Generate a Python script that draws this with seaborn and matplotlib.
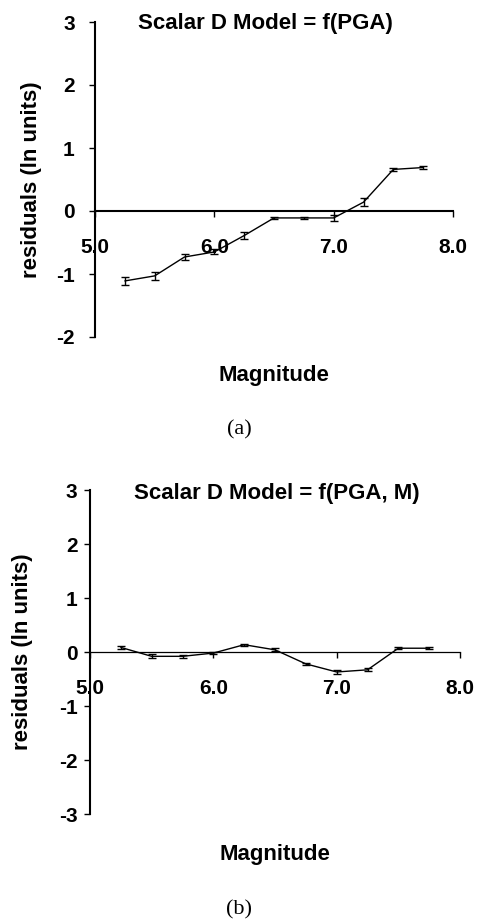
import matplotlib
matplotlib.use("Agg")
import matplotlib.pyplot as plt
import seaborn as sns
import pandas as pd

# Data
magnitude = [5.25, 5.5, 5.75, 6.0, 6.25, 6.5, 6.75, 7.0, 7.25, 7.5, 7.75]
resid_a = [-1.11, -1.03, -0.73, -0.65, -0.39, -0.11, -0.11, -0.11, 0.14, 0.66, 0.69]
err_a = [0.07, 0.06, 0.04, 0.04, 0.05, 0.015, 0.015, 0.05, 0.06, 0.03, 0.03]
resid_b = [0.085, -0.08, -0.08, -0.02, 0.135, 0.04, -0.22, -0.37, -0.33, 0.07, 0.07]
err_b = [0.03, 0.04, 0.03, 0.02, 0.015, 0.03, 0.015, 0.03, 0.03, 0.015, 0.015]
xticks = [5.0, 6.0, 7.0, 8.0]
xtick_labels = ["5.0", "6.0", "7.0", "8.0"]
titles = ["Scalar D Model = f(PGA)", "Scalar D Model = f(PGA, M)"]
captions = ["(a)", "(b)"]

sns.set_theme(style="white")
plt.rcParams['font.family'] = ['Liberation Sans', 'DejaVu Sans']

W, H = 481, 921
fig = plt.figure(figsize=(W / 100, H / 100), dpi=100)

def frac_rect(l, r, t, b):
    return [l / W, 1 - b / H, (r - l) / W, (b - t) / H]

panels = [
    dict(rect=frac_rect(95, 453, 22, 337), y=resid_a, e=err_a, ylim=(-2, 3),
         yticks=[-2, -1, 0, 1, 2, 3], zero_lw=1.5, ypad=10,
         title_xy=(0.475, 0.995), ylab_x=-0.148, xlab_y=-0.089,
         cap_xy=(239, 430)),
    dict(rect=frac_rect(90, 460, 490, 814), y=resid_b, e=err_b, ylim=(-3, 3),
         yticks=[-3, -2, -1, 0, 1, 2, 3], zero_lw=0.9, ypad=4.5,
         title_xy=(0.505, 0.99), ylab_x=-0.154, xlab_y=-0.092,
         cap_xy=(239, 910)),
]

for i, p in enumerate(panels):
    ax = fig.add_axes(p["rect"])
    df = pd.DataFrame({"Magnitude": magnitude, "resid": p["y"], "err": p["e"]})
    sns.lineplot(data=df, x="Magnitude", y="resid", ax=ax, color="black",
                 linewidth=1.0, errorbar=None)
    ax.errorbar(df["Magnitude"], df["resid"], yerr=df["err"], fmt="none",
                ecolor="black", elinewidth=1.0, capsize=3, capthick=1.0)
    ax.set_xlim(5.0, 8.0)
    ax.set_ylim(*p["ylim"])
    ax.set_xticks(xticks)
    ax.set_xticklabels(xtick_labels)
    ax.set_yticks(p["yticks"])
    ax.set_yticklabels([str(v) for v in p["yticks"]])
    for s in ["top", "right"]:
        ax.spines[s].set_visible(False)
    ax.spines["left"].set_linewidth(1.5)
    ax.spines["left"].set_color("black")
    ax.spines["bottom"].set_position(("data", 0))
    ax.spines["bottom"].set_linewidth(p["zero_lw"])
    ax.spines["bottom"].set_color("black")
    ax.tick_params(axis="x", direction="out", length=4.5, width=1.0,
                   color="black", pad=15, labelsize=15, bottom=True)
    ax.tick_params(axis="y", direction="out", length=4.5, width=1.0,
                   color="black", pad=p["ypad"], labelsize=15, left=True)
    for lab in ax.get_xticklabels() + ax.get_yticklabels():
        lab.set_fontweight("bold")
        lab.set_color("black")
    ax.grid(False)
    ax.set_facecolor("none")
    ax.set_xlabel("Magnitude", fontsize=16, fontweight="bold", color="black")
    ax.xaxis.set_label_coords(0.5, p["xlab_y"])
    ax.set_ylabel("residuals (ln units)", fontsize=16, fontweight="bold",
                  color="black")
    ax.yaxis.set_label_coords(p["ylab_x"], 0.5)
    ax.text(p["title_xy"][0], p["title_xy"][1], titles[i], transform=ax.transAxes,
            ha="center", va="center", fontsize=16, fontweight="bold",
            color="black")
    fig.text(p["cap_xy"][0] / W, 1 - p["cap_xy"][1] / H, captions[i],
             ha="center", va="center", fontsize=16, color="black",
             family=["Liberation Serif", "DejaVu Serif"])

fig.savefig("out.png", dpi=100, facecolor="white")
